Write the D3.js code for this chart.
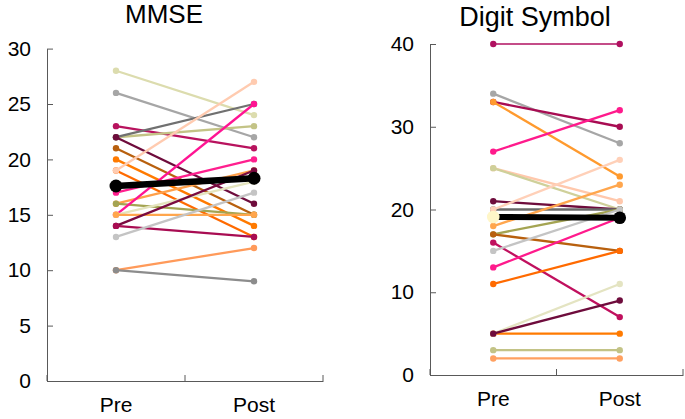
<!DOCTYPE html>
<html>
<head>
<meta charset="utf-8">
<script src="https://cdn.jsdelivr.net/npm/d3@7/dist/d3.min.js"></script>
<style>
  html, body { margin: 0; padding: 0; background: #ffffff; }
  svg { display: block; font-family: "Liberation Sans", Arial, sans-serif; }
</style>
</head>
<body>
<svg id="chart" width="685" height="419"></svg>
<script>
// ---------- data ----------
const categories = ["Pre", "Post"];

const mmseTitle = "MMSE";
const mmseTicks = [0, 5, 10, 15, 20, 25, 30];
const mmsePre  = [28, 26, 23, 22, 22, 22, 21, 20, 19, 19, 17, 16, 16, 15, 15, 15, 14, 14, 13, 10, 10];
const mmsePost = [24, 22, 21, 23, 25, 16, 15, 14, 13, 27, 20, 19, 15, 25, 18, 15, 19, 13, 17, 12, 9];
const mmseColors = ["#dcdcae", "#a6a6a6", "#b8135e", "#c3c386", "#707070", "#6e0c3c", "#b8600e",
                    "#ff7a00", "#ff6a00", "#ffcbb0", "#ff1f8e", "#ffa04a", "#a4a452", "#ff1493",
                    "#e4e4be", "#ffa64d", "#7a0a40", "#a80c52", "#c4c4c4", "#ff9a5a", "#8c8c8c"];
const mmseMean = [17.6, 18.3];

const dsTitle = "Digit Symbol";
const dsTicks = [0, 10, 20, 30, 40];
const dsPre  = [40, 34, 33, 33, 27, 25, 25, 21, 20, 20, 18, 17, 17, 16, 15, 13, 11, 5, 5, 5, 3, 2];
const dsPost = [40, 28, 30, 24, 32, 21, 20, 20, 20, 26, 23, 20, 15, 7, 20, 19, 15, 5, 11, 9, 3, 2];
const dsColors = ["#b01060", "#a6a6a6", "#a80c52", "#ff9a2e", "#ff1a8c", "#ffc8ac", "#cfd09a",
                  "#6e0c3c", "#6a6a6a", "#ffd0b8", "#ffa64d", "#a4a452", "#b8600e", "#c0105e",
                  "#c4c4c4", "#ff1a8c", "#ff6a00", "#ff7a00", "#e4e4c2", "#6e0c3c", "#c3c386", "#ffa060"];
const dsMean = [19.1, 19.0];

// ---------- drawing ----------
const svg = d3.select("#chart");

function panel(cfg) {
  const g = svg.append("g");
  const x = d3.scaleBand().domain(categories).range([cfg.x0, cfg.x1]);
  const y = d3.scaleLinear().domain([0, cfg.ticks[cfg.ticks.length - 1]]).range([cfg.yBottom, cfg.yTop]);
  const cx = c => x(c) + x.bandwidth() / 2;

  // title
  g.append("text")
    .attr("x", cfg.titleX).attr("y", cfg.titleY)
    .attr("text-anchor", "middle")
    .attr("font-size", cfg.titleSize)
    .attr("fill", "#000")
    .text(cfg.title);

  // y axis
  const yAxis = g.append("g")
    .attr("transform", `translate(${cfg.x0},0)`)
    .call(d3.axisLeft(y).tickValues(cfg.ticks).tickSizeInner(-6).tickSizeOuter(0).tickPadding(cfg.yPad));
  yAxis.select(".domain").attr("stroke", "#595959");
  yAxis.selectAll(".tick line").attr("stroke", "#595959");
  yAxis.selectAll(".tick text").attr("font-size", 21).attr("fill", "#000")
    .attr("font-family", "Liberation Sans, Arial, sans-serif");

  // x axis
  const xAxis = g.append("g")
    .attr("transform", `translate(0,${cfg.yBottom})`)
    .call(d3.axisBottom(x).tickSize(0).tickPadding(cfg.xPad));
  xAxis.select(".domain").attr("stroke", "#595959");
  xAxis.selectAll(".tick text").attr("font-size", 21).attr("fill", "#000")
    .attr("font-family", "Liberation Sans, Arial, sans-serif");
  // category boundary ticks (pointing inward)
  const bounds = [cfg.x0, x("Post"), cfg.x1];
  g.selectAll("line.bt").data(bounds).enter().append("line")
    .attr("x1", d => d).attr("x2", d => d)
    .attr("y1", cfg.yBottom).attr("y2", cfg.yBottom - 6)
    .attr("stroke", "#595959");

  // patient lines
  const pg = g.append("g");
  cfg.pre.forEach((v, i) => {
    const s = pg.append("g");
    const w = cfg.thin && cfg.thin.includes(i) ? 1.5 : 2.3;
    s.append("line")
      .attr("x1", cx("Pre")).attr("y1", y(v))
      .attr("x2", cx("Post")).attr("y2", y(cfg.post[i]))
      .attr("stroke", cfg.colors[i]).attr("stroke-width", w);
    s.selectAll("circle").data([["Pre", v], ["Post", cfg.post[i]]]).enter().append("circle")
      .attr("cx", d => cx(d[0])).attr("cy", d => y(d[1]))
      .attr("r", 3.2).attr("fill", cfg.colors[i]);
  });

  // mean
  const mg = g.append("g");
  mg.append("line")
    .attr("x1", cx("Pre")).attr("y1", y(cfg.mean[0]))
    .attr("x2", cx("Post")).attr("y2", y(cfg.mean[1]))
    .attr("stroke", "#000").attr("stroke-width", cfg.meanWidth);
  mg.selectAll("circle").data(categories).enter().append("circle")
    .attr("cx", c => cx(c)).attr("cy", (c, i) => y(cfg.mean[i]))
    .attr("r", cfg.meanR)
    .attr("fill", (c, i) => cfg.meanFill[i]);
}

panel({
  title: mmseTitle, titleX: 164, titleY: 23, titleSize: 26,
  ticks: mmseTicks, x0: 47, x1: 323, yBottom: 381, yTop: 48.6,
  yPad: 16, xPad: 16,
  pre: mmsePre, post: mmsePost, colors: mmseColors,
  mean: mmseMean, meanWidth: 6.5, meanR: 6.5, meanFill: ["#000", "#000"]
});

panel({
  title: dsTitle, titleX: 535, titleY: 26, titleSize: 27,
  ticks: dsTicks, x0: 430, x1: 683, yBottom: 375, yTop: 44,
  yPad: 16, xPad: 16,
  pre: dsPre, post: dsPost, colors: dsColors, thin: [0],
  mean: dsMean, meanWidth: 6, meanR: 6.3, meanFill: ["#fff6c8", "#000"]
});
</script>
</body>
</html>
